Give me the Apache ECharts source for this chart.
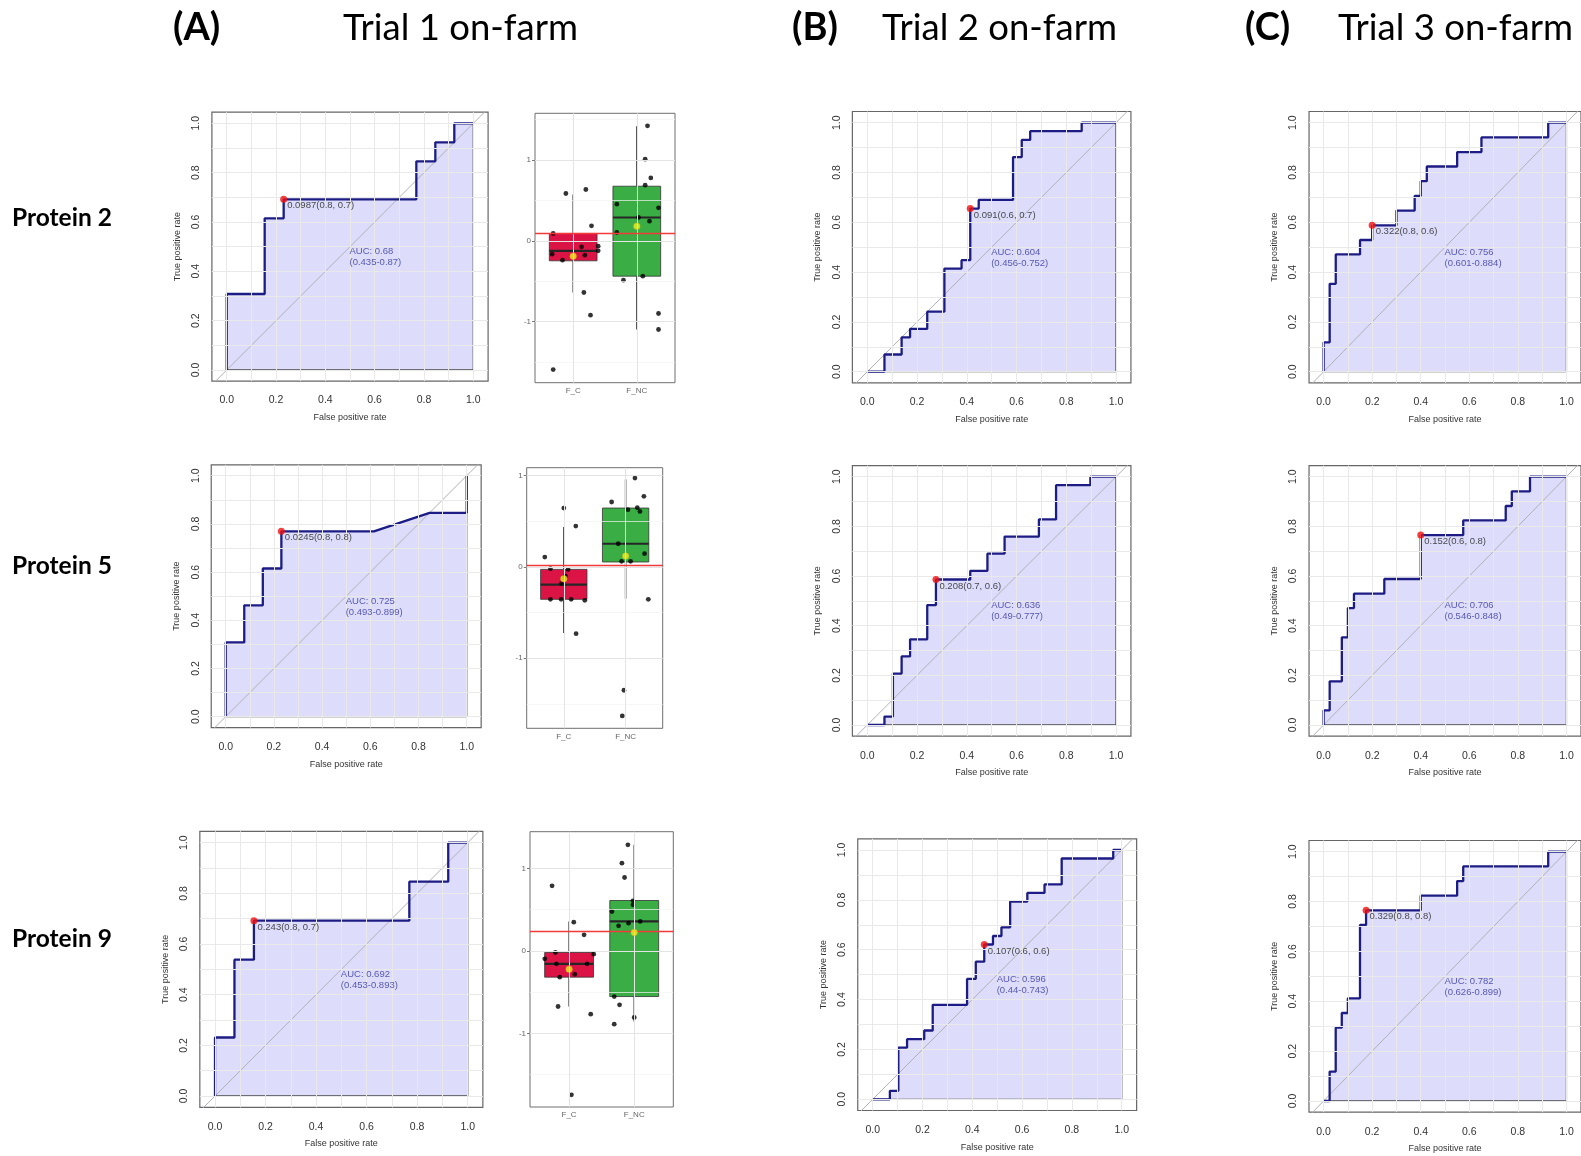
<!DOCTYPE html>
<html><head><meta charset="utf-8">
<script src="https://cdn.jsdelivr.net/npm/echarts@6/dist/echarts.min.js"></script>
<style>html,body{margin:0;padding:0;background:#fff;}#c{width:1581px;height:1156px;}</style>
</head><body><div id="c"></div>
<script>
// ---------- ROC curves (FPR, TPR) ----------
const rocT1P2 = [[0,0],[0,0.308],[0.154,0.308],[0.154,0.615],[0.231,0.615],[0.231,0.692],[0.769,0.692],[0.769,0.846],[0.846,0.846],[0.846,0.923],[0.923,0.923],[0.923,1],[1,1]];
const rocT1P5 = [[0,0],[0,0.308],[0.077,0.308],[0.077,0.462],[0.154,0.462],[0.154,0.615],[0.231,0.615],[0.231,0.769],[0.615,0.769],[0.846,0.846],[1,0.846],[1,1]];
const rocT1P9 = [[0,0],[0,0.231],[0.077,0.231],[0.077,0.538],[0.154,0.538],[0.154,0.692],[0.769,0.692],[0.769,0.846],[0.923,0.846],[0.923,1],[1,1]];
const rocT2P2 = [[0,0],[0.069,0],[0.069,0.069],[0.138,0.069],[0.138,0.138],[0.172,0.138],[0.172,0.172],[0.241,0.172],[0.241,0.241],[0.310,0.241],[0.310,0.414],[0.379,0.414],[0.379,0.448],[0.414,0.448],[0.414,0.655],[0.448,0.655],[0.448,0.690],[0.586,0.690],[0.586,0.862],[0.621,0.862],[0.621,0.931],[0.655,0.931],[0.655,0.966],[0.862,0.966],[0.862,1],[1,1]];
const rocT2P5 = [[0,0],[0.069,0],[0.069,0.034],[0.103,0.034],[0.103,0.207],[0.138,0.207],[0.138,0.276],[0.172,0.276],[0.172,0.345],[0.241,0.345],[0.241,0.483],[0.276,0.483],[0.276,0.586],[0.414,0.586],[0.414,0.621],[0.483,0.621],[0.483,0.690],[0.552,0.690],[0.552,0.759],[0.690,0.759],[0.690,0.828],[0.759,0.828],[0.759,0.966],[0.897,0.966],[0.897,1],[1,1]];
const rocT2P9 = [[0,0],[0.069,0],[0.069,0.034],[0.103,0.034],[0.103,0.207],[0.138,0.207],[0.138,0.241],[0.207,0.241],[0.207,0.276],[0.241,0.276],[0.241,0.379],[0.379,0.379],[0.379,0.483],[0.414,0.483],[0.414,0.552],[0.448,0.552],[0.448,0.621],[0.483,0.621],[0.483,0.655],[0.517,0.655],[0.517,0.690],[0.552,0.690],[0.552,0.793],[0.621,0.793],[0.621,0.828],[0.690,0.828],[0.690,0.862],[0.759,0.862],[0.759,0.966],[0.966,0.966],[0.966,1],[1,1]];
const rocT3P2 = [[0,0],[0,0.118],[0.025,0.118],[0.025,0.353],[0.05,0.353],[0.05,0.471],[0.15,0.471],[0.15,0.529],[0.2,0.529],[0.2,0.588],[0.3,0.588],[0.3,0.647],[0.375,0.647],[0.375,0.706],[0.4,0.706],[0.4,0.765],[0.425,0.765],[0.425,0.824],[0.55,0.824],[0.55,0.882],[0.65,0.882],[0.65,0.941],[0.925,0.941],[0.925,1],[1,1]];
const rocT3P5 = [[0,0],[0,0.059],[0.025,0.059],[0.025,0.176],[0.075,0.176],[0.075,0.353],[0.1,0.353],[0.1,0.471],[0.125,0.471],[0.125,0.529],[0.25,0.529],[0.25,0.588],[0.4,0.588],[0.4,0.765],[0.575,0.765],[0.575,0.824],[0.75,0.824],[0.75,0.882],[0.775,0.882],[0.775,0.941],[0.85,0.941],[0.85,1],[1,1]];
const rocT3P9 = [[0,0],[0.025,0],[0.025,0.118],[0.05,0.118],[0.05,0.294],[0.075,0.294],[0.075,0.353],[0.1,0.353],[0.1,0.412],[0.15,0.412],[0.15,0.706],[0.175,0.706],[0.175,0.765],[0.4,0.765],[0.4,0.824],[0.55,0.824],[0.55,0.882],[0.575,0.882],[0.575,0.941],[0.925,0.941],[0.925,1],[1,1]];

// best thresholds (FPR, TPR) and labels
const bestPoints = [[0.231,0.692],[0.231,0.769],[0.154,0.692],[0.414,0.655],[0.276,0.586],[0.448,0.621],[0.2,0.588],[0.4,0.765],[0.175,0.765]];
const bestLabels = ['0.0987(0.8, 0.7)','0.0245(0.8, 0.8)','0.243(0.8, 0.7)','0.091(0.6, 0.7)','0.208(0.7, 0.6)','0.107(0.6, 0.6)','0.322(0.8, 0.6)','0.152(0.6, 0.8)','0.329(0.8, 0.8)'];
const aucLabels = ['AUC: 0.68','AUC: 0.725','AUC: 0.692','AUC: 0.604','AUC: 0.636','AUC: 0.596','AUC: 0.756','AUC: 0.706','AUC: 0.782'];
const ciLabels = ['(0.435-0.87)','(0.493-0.899)','(0.453-0.893)','(0.456-0.752)','(0.49-0.777)','(0.44-0.743)','(0.601-0.884)','(0.546-0.848)','(0.626-0.899)'];
const rocTicks = [0,0.2,0.4,0.6,0.8,1.0];
const rocGridVals = [0,0.1,0.2,0.3,0.4,0.5,0.6,0.7,0.8,0.9,1.0];

// ---------- Box plots (Trial 1) ----------
const boxCats = ['F_C','F_NC'];
// [x, lowerWhisker, Q1, median, Q3, upperWhisker]
const boxStatsP2 = [[1,-0.64,-0.247,-0.124,0.091,0.573],[2,-1.097,-0.437,0.289,0.676,1.419]];
const boxStatsP5 = [[1,-0.723,-0.354,-0.193,-0.026,0.438],[2,-0.347,0.055,0.255,0.646,0.960]];
const boxStatsP9 = [[1,-0.675,-0.319,-0.158,-0.020,0.356],[2,-0.857,-0.554,0.356,0.610,1.285]];
const meansP2 = [[1,-0.19],[2,0.181]];
const meansP5 = [[1,-0.128],[2,0.120]];
const meansP9 = [[1,-0.222],[2,0.222]];
const cutP2 = 0.099, cutP5 = 0.02, cutP9 = 0.243;
const ptsP2 = [[0.885,0.586],[1.199,0.635],[1.288,0.186],[0.686,0.091],[0.670,-0.165],[0.832,-0.239],[1.131,-0.074],[1.183,-0.177],[1.393,-0.066],[1.393,-0.124],[1.168,-0.639],[1.272,-0.92],[0.686,-1.592],
  [2.168,1.423],[2.131,1.010],[2.220,0.779],[2.131,0.689],[2.341,0.408],[1.686,0.454],[2.026,0.289],[2.199,0.243],[1.686,0.103],[1.790,-0.487],[2.094,-0.437],[2.341,-0.899],[2.341,-1.097]];
const ptsP5 = [[1.0,0.646],[1.194,0.449],[0.693,0.109],[0.784,-0.018],[1.070,-0.026],[1.027,-0.099],[0.962,-0.182],[0.784,-0.354],[0.957,-0.354],[1.119,-0.354],[1.340,-0.365],[1.199,-0.730],[1.005,-0.12],
  [2.151,0.974],[2.296,0.774],[1.774,0.712],[2.038,0.628],[2.189,0.650],[2.232,0.609],[1.881,0.255],[2.307,0.146],[1.935,0.062],[2.081,0.062],[2.367,-0.354],[1.973,-1.350],[1.946,-1.631]];
const ptsP9 = [[0.739,0.788],[1.072,0.347],[1.230,0.194],[0.627,-0.097],[0.790,-0.020],[0.806,-0.158],[1.276,-0.158],[1.378,-0.040],[0.857,-0.319],[1.087,-0.283],[0.831,-0.675],[1.332,-0.768],[1.036,-1.745],
  [1.903,1.285],[1.811,1.063],[1.852,0.889],[1.980,0.606],[1.980,0.558],[1.658,0.477],[1.760,0.303],[1.913,0.335],[2.092,0.356],[1.693,-0.554],[1.775,-0.655],[1.693,-0.889],[2.0,-0.808]];
const boxYTicks = [-1,0,1];
const boxMajor = [-1,0,1];
const boxMinor = [-1.5,-0.5,0.5,1.5];

// ---------- layout (pixel placement) ----------
const rocCurves = [rocT1P2,rocT1P5,rocT1P9,rocT2P2,rocT2P5,rocT2P9,rocT3P2,rocT3P5,rocT3P9];
// [x(0)px, x(1)px, y(1)px, y(0)px]
const rocPix = [[226.7,473.3,123.3,370],[225.7,466.7,475.7,716.7],[215,467.7,842.7,1096],
                [867.3,1116,122.7,371.7],[867.3,1116,476.7,725],[872.7,1121.7,850,1099.3],
                [1324,1573.3,122.7,371.7],[1324,1573.3,476.7,725],[1324,1574,851.7,1101]];
const RX0=-0.06, RX1=1.06, RY0=-0.045, RY1=1.045;
const boxPanels = [
  {stats:boxStatsP2, means:meansP2, pts:ptsP2, cut:cutP2, rect:[535,113.3,675,382.7], ymin:-1.755, ymax:1.578},
  {stats:boxStatsP5, means:meansP5, pts:ptsP5, cut:cutP5, rect:[526.7,467.7,662.7,728.3], ymin:-1.767, ymax:1.088},
  {stats:boxStatsP9, means:meansP9, pts:ptsP9, cut:cutP9, rect:[530,831.7,673.3,1107], ymin:-1.893, ymax:1.444}
];
const boxColors = ['#dc1446','#3aae45'];

const grids=[], xAxes=[], yAxes=[], series=[];
const axisFont = 'Liberation Sans';

rocCurves.forEach((curve,i)=>{
  const [x0,x1,y1,y0] = rocPix[i];
  const ux = x1-x0, uy = y0-y1;
  grids.push({left:x0+RX0*ux, top:y1-(RY1-1)*uy, width:(RX1-RX0)*ux, height:(RY1-RY0)*uy,
    show:true, borderColor:'#666', borderWidth:1.2, backgroundColor:'transparent', containLabel:false});
  xAxes.push({type:'value', gridIndex:i, min:RX0, max:RX1,
    axisLine:{show:false}, splitLine:{show:false},
    axisTick:{show:true, customValues:rocTicks, length:6, lineStyle:{color:'#555'}},
    axisLabel:{customValues:rocTicks, formatter:v=>v.toFixed(1), fontSize:10.5, color:'#333', margin:14, fontFamily:axisFont},
    name:'False positive rate', nameLocation:'middle', nameGap:32, nameTextStyle:{fontSize:9, color:'#333', fontFamily:axisFont}});
  yAxes.push({type:'value', gridIndex:i, min:RY0, max:RY1,
    axisLine:{show:false}, splitLine:{show:false},
    axisTick:{show:true, customValues:rocTicks, length:6, lineStyle:{color:'#555'}},
    axisLabel:{customValues:rocTicks, formatter:v=>v.toFixed(1), rotate:90, fontSize:10.5, color:'#333', margin:10, fontFamily:axisFont},
    name:'True positive rate', nameLocation:'middle', nameGap:30, nameTextStyle:{fontSize:9, color:'#333', fontFamily:axisFont}});
  // light grid lines
  series.push({type:'line', xAxisIndex:i, yAxisIndex:i, data:[[0,0]], symbol:'none', lineStyle:{width:0}, silent:true, z:1,
    markLine:{silent:true, symbol:['none','none'], animation:false, label:{show:false},
      lineStyle:{color:'#e9e9e9', width:1, type:'solid'},
      data: rocGridVals.map(v=>({xAxis:v})).concat(rocGridVals.map(v=>({yAxis:v})))}});
  // filled area under curve
  series.push({type:'line', xAxisIndex:i, yAxisIndex:i, data:curve, symbol:'none', z:2, silent:true,
    lineStyle:{width:0}, areaStyle:{color:'rgba(75,75,235,0.27)', origin:0}});
  // diagonal
  series.push({type:'line', xAxisIndex:i, yAxisIndex:i, data:[[-0.2,-0.2],[1.2,1.2]], symbol:'none', z:3, silent:true,
    lineStyle:{color:'#b0b0b8', width:1}});
  // polygon frame (right and bottom edges)
  const last = curve[curve.length-1];
  series.push({type:'line', xAxisIndex:i, yAxisIndex:i, data:[last,[last[0],0],[curve[0][0],0]], symbol:'none', z:3, silent:true,
    lineStyle:{color:'#4a4a4a', width:1.3}});
  // ROC curve
  series.push({type:'line', xAxisIndex:i, yAxisIndex:i, data:curve, symbol:'none', z:4, silent:true,
    lineStyle:{color:'#1c1c84', width:2.3}});
  // best threshold point
  series.push({type:'scatter', xAxisIndex:i, yAxisIndex:i, data:[bestPoints[i]], symbolSize:7, z:5, silent:true,
    itemStyle:{color:'#f01010'},
    label:{show:true, formatter:bestLabels[i], position:[7,10], align:'left', verticalAlign:'middle', fontSize:9.5, color:'#222', fontFamily:axisFont}});
  // AUC text
  series.push({type:'scatter', xAxisIndex:i, yAxisIndex:i, data:[[0.5,0.5]], symbolSize:1, z:5, silent:true,
    itemStyle:{color:'rgba(0,0,0,0)'},
    label:{show:true, formatter:aucLabels[i]+'\n'+ciLabels[i], position:[0,0], align:'left', verticalAlign:'top', fontSize:9.5, lineHeight:11, color:'#34349e', fontFamily:axisFont}});
});

function renderBox(params, api){
  const x=api.value(0), lo=api.value(1), q1=api.value(2), med=api.value(3), q3=api.value(4), hi=api.value(5);
  const w=0.375;
  const tl=api.coord([x-w,q3]), br=api.coord([x+w,q1]);
  const pHi=api.coord([x,hi]), pQ3=api.coord([x,q3]), pQ1=api.coord([x,q1]), pLo=api.coord([x,lo]);
  const m1=api.coord([x-w,med]), m2=api.coord([x+w,med]);
  return {type:'group', children:[
    {type:'line', shape:{x1:pHi[0],y1:pHi[1],x2:pQ3[0],y2:pQ3[1]}, style:{stroke:'#555', lineWidth:1.6}},
    {type:'line', shape:{x1:pQ1[0],y1:pQ1[1],x2:pLo[0],y2:pLo[1]}, style:{stroke:'#555', lineWidth:1.6}},
    {type:'rect', shape:{x:tl[0],y:tl[1],width:br[0]-tl[0],height:br[1]-tl[1]}, style:{fill:boxColors[params.dataIndex], stroke:'#333', lineWidth:0.8}},
    {type:'line', shape:{x1:m1[0],y1:m1[1],x2:m2[0],y2:m2[1]}, style:{stroke:'#262626', lineWidth:2.2}}
  ]};
}

boxPanels.forEach((bp,k)=>{
  const gi = 9+k;
  const [l,t,r,b] = bp.rect;
  grids.push({left:l, top:t, width:r-l, height:b-t, show:true, borderColor:'#6e6e6e', borderWidth:1, backgroundColor:'#fff'});
  xAxes.push({type:'value', gridIndex:gi, min:0.4, max:2.6, axisLine:{show:false}, splitLine:{show:false},
    axisTick:{show:true, customValues:[1,2], length:3, lineStyle:{color:'#777'}},
    axisLabel:{customValues:[1,2], formatter:v=>boxCats[Math.round(v)-1], fontSize:8, color:'#666', margin:4, fontFamily:axisFont}});
  yAxes.push({type:'value', gridIndex:gi, min:bp.ymin, max:bp.ymax, axisLine:{show:false}, splitLine:{show:false},
    axisTick:{show:true, customValues:boxYTicks, length:3, lineStyle:{color:'#777'}},
    axisLabel:{customValues:boxYTicks, formatter:v=>String(v), fontSize:8, color:'#666', margin:4, fontFamily:axisFont}});
  series.push({type:'line', xAxisIndex:gi, yAxisIndex:gi, data:[[1,0]], symbol:'none', lineStyle:{width:0}, silent:true, z:1,
    markLine:{silent:true, symbol:['none','none'], animation:false, label:{show:false},
      data: boxMajor.map(v=>({yAxis:v, lineStyle:{color:'#e4e4e4', width:1, type:'solid'}}))
        .concat(boxMinor.map(v=>({yAxis:v, lineStyle:{color:'#f3f3f3', width:0.7, type:'solid'}})))
        .concat([1,2].map(v=>({xAxis:v, lineStyle:{color:'#e4e4e4', width:1, type:'solid'}})))}});
  series.push({type:'custom', xAxisIndex:gi, yAxisIndex:gi, data:bp.stats, renderItem:renderBox, z:2, silent:true,
    encode:{x:0, y:[1,2,3,4,5]}});
  series.push({type:'line', xAxisIndex:gi, yAxisIndex:gi, data:[[1,bp.cut]], symbol:'none', lineStyle:{width:0}, silent:true, z:3,
    markLine:{silent:true, symbol:['none','none'], animation:false, label:{show:false},
      lineStyle:{color:'#f23a3a', width:1.4, type:'solid'}, data:[{yAxis:bp.cut}]}});
  series.push({type:'scatter', xAxisIndex:gi, yAxisIndex:gi, data:bp.pts, symbolSize:4.8, z:4, silent:true, itemStyle:{color:'#000'}});
  series.push({type:'scatter', xAxisIndex:gi, yAxisIndex:gi, data:bp.means, symbolSize:6.5, z:5, silent:true,
    itemStyle:{color:'#f0f020', borderColor:'#d8b020', borderWidth:0.6}});
});

// ---------- headers ----------
const headFont = 'Lato, "Open Sans", sans-serif';
const headers = [
  {t:'(A)', x:173, size:38, bold:true}, {t:'Trial 1 on-farm', x:343, size:36.5, bold:false},
  {t:'(B)', x:792, size:38, bold:true}, {t:'Trial 2 on-farm', x:882, size:36.5, bold:false},
  {t:'(C)', x:1245, size:38, bold:true}, {t:'Trial 3 on-farm', x:1338, size:36.5, bold:false}
];
const rowLabels = [{t:'Protein 2', y:218},{t:'Protein 5', y:566},{t:'Protein 9', y:939}];
const graphic = headers.map(h=>({type:'text', x:h.x, y:28, style:{text:h.t, font:(h.bold?'bold ':'')+h.size+'px '+headFont, fill:'#000', verticalAlign:'middle', align:'left'}}))
  .concat(rowLabels.map(r=>({type:'text', x:12, y:r.y, style:{text:r.t, font:'bold 24.5px '+headFont, fill:'#000', verticalAlign:'middle', align:'left'}})));

const chart = echarts.init(document.getElementById('c'), null, {renderer:'canvas'});
chart.setOption({animation:false, backgroundColor:'#fff', grid:grids, xAxis:xAxes, yAxis:yAxes, series:series, graphic:graphic});
</script></body></html>
